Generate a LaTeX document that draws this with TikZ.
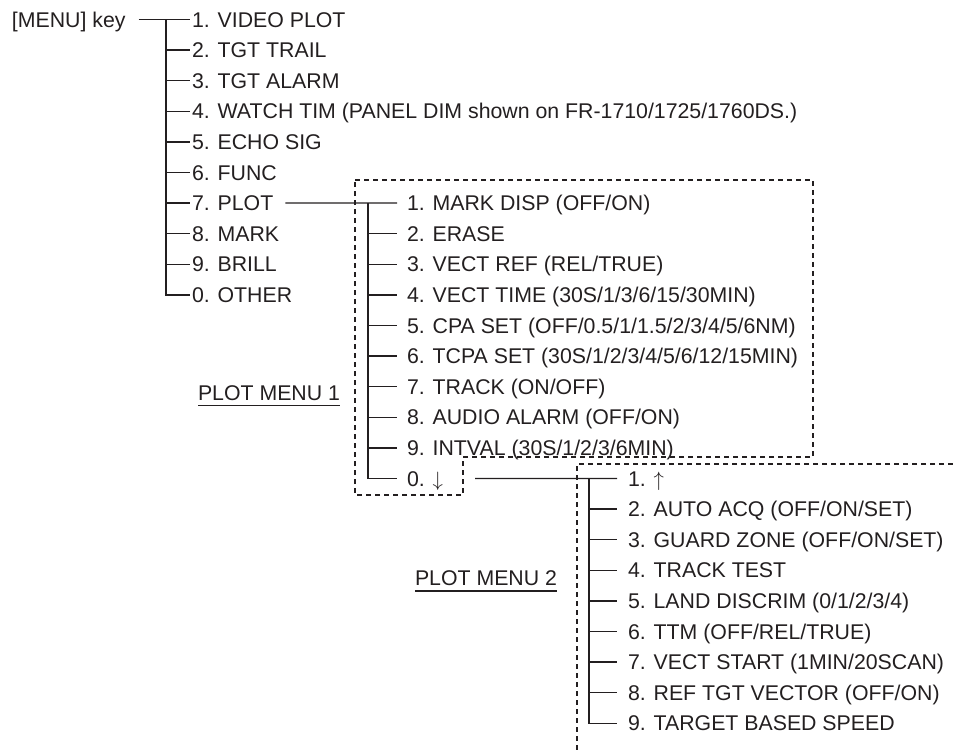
\documentclass[tikz,border=0pt]{standalone}
\usepackage{fontspec}
\setmainfont{Liberation Sans}
\definecolor{ink}{HTML}{231F20}
\begin{document}
\begin{tikzpicture}[x=1pt,y=-1pt,
  lbl/.style={anchor=base west, inner sep=0pt, outer sep=0pt, font=\fontsize{21.3}{25}\selectfont, text=ink},
  wire/.style={draw=ink, line width=1.3pt},
  dbox/.style={draw=ink, line width=1.2pt, dash pattern=on 5pt off 4pt}]
\useasboundingbox (0,0) rectangle (953,751);

% main menu
\node[lbl] (key) at (12,27.1) {[MENU] key};
\foreach \t [count=\i] in {{1. VIDEO PLOT},{2. TGT TRAIL},{3. TGT ALARM},
  {4. WATCH TIM (PANEL DIM shown on FR-1710/1725/1760DS.)},{5. ECHO SIG},
  {6. FUNC},{7. PLOT},{8. MARK},{9. BRILL},{0. OTHER}}{
  \node[lbl] (m\i) at (192,{27.1+(\i-1)*30.6}) {\t};
  \coordinate (mw\i) at ([shift={(-2pt,7.6pt)}]m\i.base west);
}
\coordinate (mt) at (166,0);
\draw[wire] ([shift={(13pt,7.6pt)}]key.base east) -- (mw1);
\draw[wire] (mt |- mw1) -- (mt |- mw10) -- (mw10);
\foreach \i in {2,...,9}{\draw[wire] (mt |- mw\i) -- (mw\i);}

% plot menu 1
\foreach \t [count=\i] in {{1. MARK DISP (OFF/ON)},{2. ERASE},{3. VECT REF (REL/TRUE)},
  {4. VECT TIME (30S/1/3/6/15/30MIN)},{5. CPA SET (OFF/0.5/1/1.5/2/3/4/5/6NM)},
  {6. TCPA SET (30S/1/2/3/4/5/6/12/15MIN)},{7. TRACK (ON/OFF)},{8. AUDIO ALARM (OFF/ON)},
  {9. INTVAL (30S/1/2/3/6MIN)},{0. $\downarrow$}}{
  \node[lbl] (p\i) at (407,{210.7+(\i-1)*30.6}) {\t};
  \coordinate (pw\i) at ([shift={(-10pt,7.6pt)}]p\i.base west);
}
\coordinate (pt) at (368,0);
\draw[wire] ([shift={(12pt,7.6pt)}]m7.base east) -- (pw1);
\draw[wire] (pt |- pw1) -- (pt |- pw10) -- (pw10);
\foreach \i in {2,...,9}{\draw[wire] (pt |- pw\i) -- (pw\i);}

% plot menu 2
\foreach \t [count=\i] in {{1. $\uparrow$},{2. AUTO ACQ (OFF/ON/SET)},{3. GUARD ZONE (OFF/ON/SET)},
  {4. TRACK TEST},{5. LAND DISCRIM (0/1/2/3/4)},{6. TTM (OFF/REL/TRUE)},
  {7. VECT START (1MIN/20SCAN)},{8. REF TGT VECTOR (OFF/ON)},{9. TARGET BASED SPEED}}{
  \node[lbl] (q\i) at (628,{486.1+(\i-1)*30.6}) {\t};
  \coordinate (qw\i) at ([shift={(-11pt,7.6pt)}]q\i.base west);
}
\coordinate (qt) at (589,0);
\draw[wire] ([shift={(32pt,7.6pt)}]p10.base east) -- (qw1);
\draw[wire] (qt |- qw1) -- (qt |- qw9) -- (qw9);
\foreach \i in {2,...,8}{\draw[wire] (qt |- qw\i) -- (qw\i);}

% dashed boxes
\draw[dbox] (355,180) -- (813,180) -- (813,457) -- (463,457) -- (463,495) -- (355,495) -- cycle;
\draw[dbox] (953,464) -- (577,464) -- (577,751);

% labels
\node[lbl] (pm1) at (198,400) {PLOT MENU 1};
\draw[wire,line width=1.2pt] ([yshift=-5.5pt]pm1.base west) -- ([yshift=-5.5pt]pm1.base east);
\node[lbl] (pm2) at (415,585) {PLOT MENU 2};
\draw[wire,line width=1.2pt] ([yshift=-6pt]pm2.base west) -- ([yshift=-6pt]pm2.base east);
\end{tikzpicture}
\end{document}
